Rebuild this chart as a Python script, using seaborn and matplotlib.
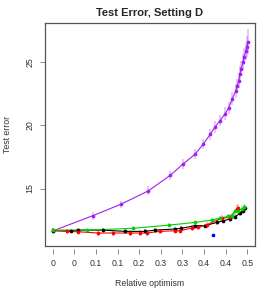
import numpy as np
import pandas as pd
import seaborn as sns
import matplotlib
matplotlib.use("Agg")
import matplotlib.pyplot as plt

# ---- data ----
purple_x = [0.0015, 0.1008, 0.171, 0.241, 0.2965, 0.3277, 0.3587, 0.379, 0.397, 0.409,
            0.422, 0.435, 0.4436, 0.4528, 0.461, 0.4654, 0.4689, 0.472, 0.4755, 0.4797,
            0.483, 0.4865, 0.4898, 0.4923]
purple_y = [11.65, 12.84, 13.74, 14.81, 16.05, 16.92, 17.71, 18.50, 19.29, 19.87,
            20.39, 20.95, 21.40, 22.13, 22.71, 23.16, 23.55, 24.10, 24.50, 25.03,
            25.47, 25.87, 26.26, 26.66]
purple_err = [0.2, 0.3, 0.3, 0.35, 0.35, 0.4, 0.4, 0.4, 0.45, 0.45,
              0.45, 0.5, 0.5, 0.5, 0.55, 0.55, 0.6, 0.6, 0.6, 0.65,
              0.7, 0.7, 0.8, 1.0]

black_x = [0.0015, 0.046, 0.0645, 0.1276, 0.1823, 0.2327, 0.2579, 0.3083, 0.3234,
           0.3587, 0.3839, 0.4134, 0.430, 0.447, 0.4596, 0.4722, 0.479, 0.4848]
black_y = [11.65, 11.65, 11.70, 11.70, 11.60, 11.60, 11.70, 11.79, 11.84,
           12.05, 12.05, 12.31, 12.44, 12.58, 12.76, 13.03, 13.23, 13.44]
black_err = [0.15, 0.15, 0.15, 0.15, 0.15, 0.15, 0.15, 0.15, 0.15,
             0.15, 0.15, 0.18, 0.18, 0.2, 0.2, 0.2, 0.2, 0.25]

red_x = [0.0015, 0.0353, 0.0645, 0.115, 0.1528, 0.1949, 0.220, 0.237, 0.2703,
         0.3083, 0.3209, 0.3504, 0.367, 0.3882, 0.426, 0.447, 0.4638, 0.468]
red_y = [11.67, 11.60, 11.57, 11.47, 11.47, 11.47, 11.47, 11.47, 11.60,
         11.65, 11.65, 11.86, 11.92, 12.12, 12.65, 12.71, 13.36, 13.44]
red_err = [0.2, 0.2, 0.2, 0.2, 0.2, 0.2, 0.2, 0.2, 0.2,
           0.2, 0.2, 0.22, 0.22, 0.25, 0.25, 0.28, 0.3, 0.3]

green_x = [0.0015, 0.0857, 0.2017, 0.294, 0.3587, 0.4008, 0.4217, 0.4427,
           0.4512, 0.4595, 0.4679, 0.4764, 0.483]
green_y = [11.70, 11.70, 11.84, 12.10, 12.31, 12.50, 12.65, 12.79,
           12.84, 13.18, 13.23, 13.36, 13.50]
green_err = [0.15, 0.15, 0.15, 0.15, 0.15, 0.15, 0.18, 0.18,
             0.2, 0.2, 0.22, 0.22, 0.25]

blue_x = [0.405]
blue_y = [11.34]

xtick_pos = [0.0, 0.0545, 0.109, 0.1635, 0.218, 0.2725, 0.327, 0.3815, 0.436, 0.4905]
xtick_labels = ["0", "0", "0.1", "0.1", "0.2", "0.3", "0.3", "0.4", "0.4", "0.5"]
ytick_pos = [15, 20, 25]

series = [
    ("purple", "#A020F0", purple_x, purple_y, purple_err),
    ("black", "#000000", black_x, black_y, black_err),
    ("red", "#FF0000", red_x, red_y, red_err),
    ("green", "#00D000", green_x, green_y, green_err),
]

# ---- style ----
sns.set_style("white")
plt.rcParams["font.family"] = ["Liberation Sans", "DejaVu Sans"]

fig = plt.figure(figsize=(2.66, 2.92), dpi=100)
ax = fig.add_axes([45 / 266, 1 - 246 / 292, 210 / 266, 223 / 292])

for name, col, xs, ys, es in series:
    df = pd.DataFrame({"x": xs, "y": ys, "e": es})
    ax.vlines(df["x"], df["y"] - df["e"], df["y"] + df["e"], color=col,
              alpha=0.3, linewidth=1.2, zorder=2)
    sns.lineplot(data=df, x="x", y="y", color=col, linewidth=0.8, ax=ax,
                 sort=True, estimator=None, zorder=3)
    sns.scatterplot(data=df, x="x", y="y", color=col, s=7, linewidth=0,
                    ax=ax, zorder=4)

bdf = pd.DataFrame({"x": blue_x, "y": blue_y})
sns.scatterplot(data=bdf, x="x", y="y", color="#0000FF", s=7, linewidth=0,
                ax=ax, zorder=4)

ax.set_xlim(-0.0194, 0.510)
ax.set_ylim(10.44, 28.13)
ax.set_xticks(xtick_pos)
ax.set_xticklabels(xtick_labels)
ax.set_yticks(ytick_pos)
ax.set_yticklabels([str(v) for v in ytick_pos], rotation=90, va="center")

for s in ax.spines.values():
    s.set_color("#555555")
    s.set_linewidth(0.9)
    s.set_visible(True)
# offset x ticks from box
ax.spines["bottom"].set_position(("outward", 2))
ax.spines["bottom"].set_visible(False)
ax.plot([0, 1], [0, 0], transform=ax.transAxes, color="#555555",
        linewidth=0.9, clip_on=False, zorder=5)

ax.tick_params(axis="both", which="both", direction="out", length=3.5,
               width=0.7, color="#888888", labelsize=6.3, labelcolor="#333333")
ax.tick_params(axis="x", pad=4, bottom=True)
ax.tick_params(axis="y", pad=4, left=True)

ax.set_xlabel("Relative optimism", fontsize=6.3, color="#333333")
ax.set_ylabel("Test error", fontsize=6.3, color="#333333")
ax.xaxis.set_label_coords(0.5, (246 - 284) / 223)
ax.xaxis.label.set_va("center")
ax.yaxis.set_label_coords((7 - 45) / 210, 0.5)
ax.yaxis.label.set_va("center")
ax.yaxis.label.set_ha("center")

ax.set_title("Test Error, Setting D", fontsize=8, fontweight="bold", pad=5)

fig.savefig("out.png", dpi=100)
